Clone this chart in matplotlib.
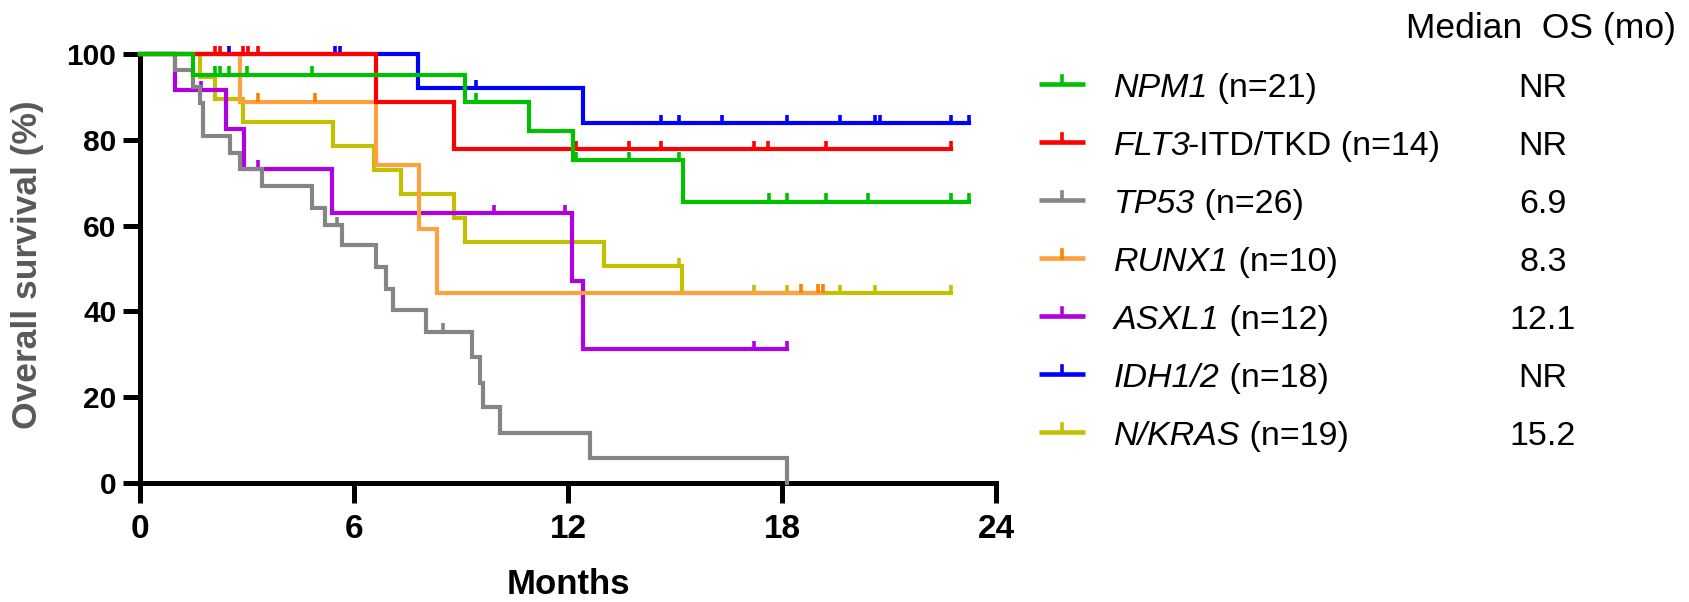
import numpy as np
import matplotlib
matplotlib.use("Agg")
import matplotlib.pyplot as plt

# ---- data (months, survival %) ----
groups = ["NPM1", "FLT3", "TP53", "RUNX1", "ASXL1", "IDH", "NKRAS"]
gene_names = ["NPM1", "FLT3", "TP53", "RUNX1", "ASXL1", "IDH1/2", "N/KRAS"]
label_rest = [" (n=21)", "-ITD/TKD (n=14)", " (n=26)", " (n=10)",
              " (n=12)", " (n=18)", " (n=19)"]
median_os = ["NR", "NR", "6.9", "8.3", "12.1", "NR", "15.2"]

npm1_t = [0, 1.49, 9.11, 10.9, 12.15, 15.23]
npm1_s = [100, 95.2, 88.9, 82.1, 75.2, 65.6]
npm1_end = 23.23
npm1_cens = [2.1, 2.25, 2.5, 3.0, 4.81, 9.41, 12.22, 13.72, 15.12,
             17.64, 18.13, 19.22, 20.42, 22.74, 23.23]

flt3_t = [0, 6.61, 8.81]
flt3_s = [100, 88.9, 77.8]
flt3_end = 22.74
flt3_cens = [2.1, 2.25, 2.88, 3.02, 3.3, 12.22, 13.72, 14.62, 17.22,
             17.62, 19.22, 22.74]

tp53_t = [0, 0.98, 1.48, 1.68, 1.78, 2.52, 2.80, 3.41, 4.81, 5.19, 5.67,
          6.63, 6.91, 7.10, 8.02, 9.32, 9.53, 9.63, 10.09, 12.62, 18.13]
tp53_s = [100, 96.2, 92.3, 88.5, 80.8, 76.9, 73.1, 69.2, 64.0, 60.1, 55.5,
          50.4, 45.2, 40.3, 35.3, 29.3, 23.2, 17.6, 11.7, 5.8, 0]
tp53_end = 18.13
tp53_cens = [5.51, 8.5]

runx1_t = [0, 2.8, 6.61, 7.82, 8.32]
runx1_s = [100, 88.9, 74.1, 59.3, 44.4]
runx1_end = 19.16
runx1_cens = [3.3, 4.91, 18.53, 19.0, 19.16]

asxl1_t = [0, 0.98, 2.42, 2.92, 5.39, 12.12, 12.43]
asxl1_s = [100, 91.7, 82.5, 73.3, 62.9, 47.0, 31.3]
asxl1_end = 18.13
asxl1_cens = [1.71, 3.3, 9.92, 11.91, 17.22, 18.13]

idh_t = [0, 7.8, 12.41]
idh_s = [100, 92.1, 83.8]
idh_end = 23.23
idh_cens = [2.5, 5.48, 5.62, 9.41, 14.62, 15.12, 16.33, 18.13, 19.62,
            20.6, 20.75, 22.74, 23.23]

nkras_t = [0, 1.68, 2.1, 2.9, 5.42, 6.57, 7.32, 8.81, 9.11, 13.02, 15.2]
nkras_s = [100, 94.7, 89.5, 84.2, 78.6, 73.0, 67.4, 61.7, 56.1, 50.5, 44.2]
nkras_end = 22.73
nkras_cens = [15.12, 17.22, 18.13, 19.62, 20.62, 22.73]

curves = {
    "NPM1": (npm1_t, npm1_s, npm1_end, npm1_cens),
    "FLT3": (flt3_t, flt3_s, flt3_end, flt3_cens),
    "TP53": (tp53_t, tp53_s, tp53_end, tp53_cens),
    "RUNX1": (runx1_t, runx1_s, runx1_end, runx1_cens),
    "ASXL1": (asxl1_t, asxl1_s, asxl1_end, asxl1_cens),
    "IDH": (idh_t, idh_s, idh_end, idh_cens),
    "NKRAS": (nkras_t, nkras_s, nkras_end, nkras_cens),
}
line_colors = {"NPM1": "#00C000", "FLT3": "#FF0000", "TP53": "#858585",
               "RUNX1": "#FFA040", "ASXL1": "#B000E2", "IDH": "#0000FF",
               "NKRAS": "#C2C000"}
mark_colors = dict(line_colors, RUNX1="#FF8000")

plt.rcParams["font.family"] = ["Liberation Sans", "DejaVu Sans"]

W, H = 1690, 602
fig = plt.figure(figsize=(W / 100, H / 100), dpi=100)
ax = fig.add_axes([140 / W, 1 - 483 / H, (996 - 140) / W, (483 - 54) / H])

# draw from last legend entry to first so NPM1 ends on top
for g in reversed(groups):
    t, s, end, cens = curves[g]
    xs = list(t) + [end]
    ys = list(s) + [s[-1]]
    ax.step(xs, ys, where="post", color=line_colors[g], lw=3,
            solid_joinstyle="miter", clip_on=False, zorder=3)
    # censor marks sit on the curve, pointing up
    idx = np.searchsorted(t, cens, side="right") - 1
    yc = np.array(s)[idx]
    ax.vlines(cens, yc, yc + 1.9, color=mark_colors[g], lw=2.6,
              clip_on=False, zorder=3)

ax.set_xlim(0, 24)
ax.set_ylim(0, 100)
ax.set_xticks([0, 6, 12, 18, 24])
ax.set_yticks([0, 20, 40, 60, 80, 100])
for sp in ["top", "right"]:
    ax.spines[sp].set_visible(False)
for sp in ["left", "bottom"]:
    ax.spines[sp].set_linewidth(3.6)
ax.tick_params(axis="y", length=12, width=3.6, pad=5, labelsize=21.5)
ax.tick_params(axis="x", length=14.5, width=3.6, pad=8, labelsize=24)
for lab in ax.get_xticklabels() + ax.get_yticklabels():
    lab.set_fontweight("bold")

# overlay in pixel coords for labels and legend
ov = fig.add_axes([0, 0, 1, 1])
ov.set_xlim(0, W)
ov.set_ylim(H, 0)
ov.axis("off")

ov.text(28, 265, "Overall survival (%)", rotation=90, ha="center",
        va="center", fontsize=25.5, fontweight="bold", color="#595959")
ov.text(568, 585, "Months", ha="center", va="center", fontsize=25,
        fontweight="bold", color="black")

fs = 24.5
renderer = fig.canvas.get_renderer()
ov.text(1406, 38, "Median  OS (mo)", ha="left", va="baseline", fontsize=25.5)
for i, g in enumerate(groups):
    base = 97 + 58.05 * i
    ly = base - 13.5
    ov.plot([1039, 1085], [ly, ly], color=line_colors[g], lw=3.3,
            solid_capstyle="butt")
    ov.plot([1062, 1062], [ly, ly - 8], color=mark_colors[g], lw=2.6)
    t_it = ov.text(1114, base, gene_names[i], ha="left", va="baseline",
                   fontsize=fs, style="italic")
    bb = t_it.get_window_extent(renderer)
    gap = -3 if label_rest[i].startswith("-") else 0
    ov.text(bb.x1 + gap, base, label_rest[i], ha="left", va="baseline",
            fontsize=fs)
    ov.text(1543, base, median_os[i], ha="center", va="baseline",
            fontsize=fs)

fig.savefig("out.png", dpi=100)
